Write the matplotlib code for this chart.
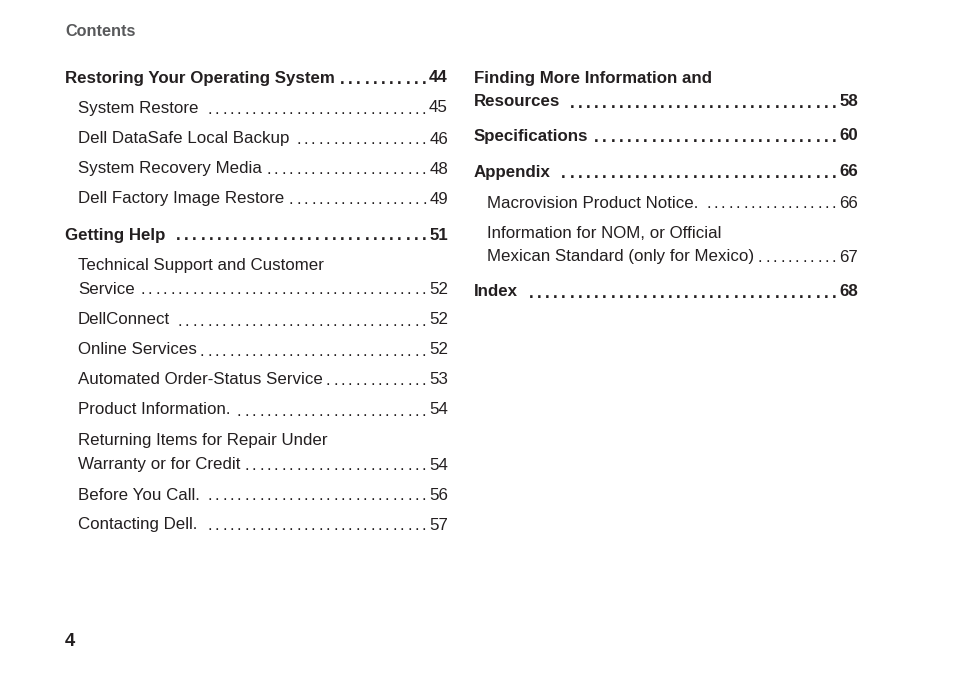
import matplotlib
matplotlib.use("Agg")
import matplotlib.pyplot as plt
from matplotlib import font_manager

W, H = 954, 677
names = {f.name for f in font_manager.fontManager.ttflist}
FONT = "Liberation Sans Narrow" if "Liberation Sans Narrow" in names else "Liberation Sans"
SIZE = 13.5 if FONT == "Liberation Sans Narrow" else 12.2

# table of contents entries: (lines, page, bold)
left_entries = [
    (["Restoring Your Operating System"], "44", True),
    (["System Restore"], "45", False),
    (["Dell DataSafe Local Backup"], "46", False),
    (["System Recovery Media"], "48", False),
    (["Dell Factory Image Restore"], "49", False),
    (["Getting Help"], "51", True),
    (["Technical Support and Customer", "Service"], "52", False),
    (["DellConnect"], "52", False),
    (["Online Services"], "52", False),
    (["Automated Order-Status Service"], "53", False),
    (["Product Information."], "54", False),
    (["Returning Items for Repair Under", "Warranty or for Credit"], "54", False),
    (["Before You Call."], "56", False),
    (["Contacting Dell."], "57", False),
]
left_y = [78, 108, 139, 169, 199, 235, 265, 320, 350, 380, 410, 441, 495, 525]

right_entries = [
    (["Finding More Information and", "Resources"], "58", True),
    (["Specifications"], "60", True),
    (["Appendix"], "66", True),
    (["Macrovision Product Notice."], "66", False),
    (["Information for NOM, or Official", "Mexican Standard (only for Mexico)"], "67", False),
    (["Index"], "68", True),
]
right_y = [78, 136, 172, 203, 233, 292]

fig = plt.figure(figsize=(W / 100, H / 100), dpi=100)
fig.patch.set_facecolor("white")
renderer = fig.canvas.get_renderer()


def put(x, y, s, bold, ha="left", size=SIZE):
    return fig.text(x / W, 1 - y / H, s, ha=ha, va="center", fontsize=size,
                    fontweight="bold" if bold else "normal", family=FONT, color="#231f20")


def width(t):
    return t.get_window_extent(renderer).width


def column(entries, ys, x_head, x_sub, x_end):
    for (lines, page, bold), y in zip(entries, ys):
        x0 = x_head if bold else x_sub
        for i, line in enumerate(lines[:-1]):
            put(x0, y + 24 * i, line, bold)
        yl = y + 24 * (len(lines) - 1)
        lab = put(x0, yl, lines[-1], bold)
        num = put(x_end, yl, page, bold, ha="right")
        start = x0 + width(lab) + 5
        stop = x_end - width(num) - 3
        step = 8.2 if bold else 7.4
        x = stop - 2
        while x > start:
            put(x, yl + 1, ".", bold, ha="center")
            x -= step


fig.text(65 / W, 1 - 32 / H, "Contents", ha="left", va="center", fontsize=SIZE - 0.5,
         fontweight="bold", family=FONT, color="#58595b")
column(left_entries, left_y, 65, 78, 448)
column(right_entries, right_y, 474, 487, 858)
put(65, 641, "4", True, size=SIZE + 1)

fig.savefig("out.png", dpi=100, facecolor="white")
